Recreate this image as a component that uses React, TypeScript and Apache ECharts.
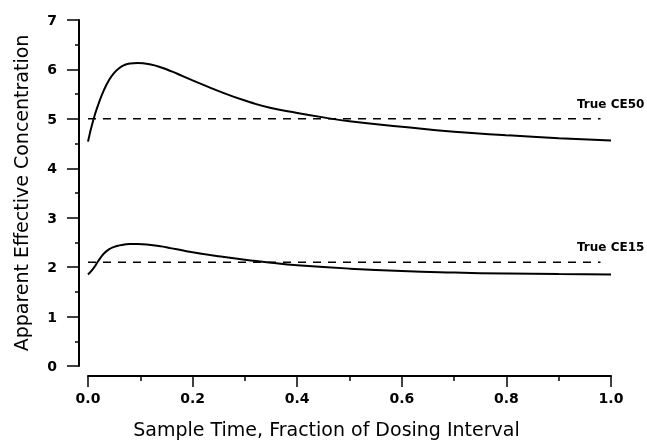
import React, { useEffect, useRef } from "react";
import * as echarts from "echarts";

const upperT = [0, 0.01, 0.02, 0.03, 0.04, 0.05, 0.06, 0.07, 0.08, 0.095, 0.12, 0.14, 0.16, 0.18, 0.2, 0.25, 0.3, 0.35, 0.4, 0.45, 0.5, 0.6, 0.7, 0.8, 0.9, 1.0];
const upperV = [4.54, 4.97, 5.3, 5.57, 5.78, 5.93, 6.03, 6.09, 6.12, 6.13, 6.1, 6.04, 5.96, 5.87, 5.78, 5.56, 5.37, 5.22, 5.12, 5.03, 4.95, 4.84, 4.74, 4.67, 4.61, 4.56];

const lowerT = [0, 0.01, 0.02, 0.03, 0.04, 0.05, 0.06, 0.07, 0.08, 0.095, 0.12, 0.14, 0.16, 0.18, 0.2, 0.25, 0.3, 0.35, 0.4, 0.5, 0.6, 0.7, 0.8, 0.9, 1.0];
const lowerV = [1.85, 1.97, 2.13, 2.27, 2.36, 2.41, 2.44, 2.46, 2.47, 2.47, 2.45, 2.42, 2.38, 2.34, 2.3, 2.22, 2.15, 2.09, 2.04, 1.97, 1.92, 1.89, 1.87, 1.86, 1.85];

const refStart = 0;
const refEnd = 0.98;
const ce50 = 5.0;
const ce15 = 2.1;
const refLabels = ["True CE50", "True CE15"];

const xTitle = "Sample Time, Fraction of Dosing Interval";
const yTitle = "Apparent Effective Concentration";

export default function App() {
  const ref = useRef<HTMLDivElement>(null);
  useEffect(() => {
    if (!ref.current) return;
    const chart = echarts.init(ref.current, null, { renderer: "svg" });
    const zip = (t: number[], v: number[]) => t.map((x, i) => [x, v[i]]);
    const tickFont = { color: "#000", fontFamily: "DejaVu Sans", fontWeight: "bold", fontSize: 14 };
    const labelFont = { color: "#000", fontFamily: "DejaVu Sans", fontWeight: "bold", fontSize: 12 };
    chart.setOption({
      animation: false,
      title: [
        { text: refLabels[0], left: 577, top: 98, padding: 0, textStyle: labelFont },
        { text: refLabels[1], left: 577, top: 241, padding: 0, textStyle: labelFont },
      ],
      grid: { left: 88, right: 36, top: 20, bottom: 76 },
      xAxis: {
        type: "value",
        min: 0,
        max: 1,
        interval: 0.2,
        offset: 10,
        name: xTitle,
        nameLocation: "middle",
        nameGap: 43,
        nameTextStyle: { color: "#000", fontFamily: "DejaVu Sans", fontSize: 19, padding: [0, 46, 0, 0] },
        axisLine: { show: true, onZero: false, lineStyle: { color: "#000", width: 2 } },
        axisTick: { show: true, length: 11, lineStyle: { color: "#000", width: 1.5 } },
        minorTick: { show: true, splitNumber: 2, length: 5, lineStyle: { color: "#000", width: 1.5 } },
        splitLine: { show: false },
        minorSplitLine: { show: false },
        axisLabel: { ...tickFont, margin: 15, formatter: (v: number) => v.toFixed(1) },
      },
      yAxis: {
        type: "value",
        min: 0,
        max: 7,
        interval: 1,
        offset: 9,
        name: yTitle,
        nameLocation: "middle",
        nameRotate: 90,
        nameGap: 49,
        nameTextStyle: { color: "#000", fontFamily: "DejaVu Sans", fontSize: 19 },
        axisLine: { show: true, onZero: false, lineStyle: { color: "#000", width: 2 } },
        axisTick: { show: true, length: 12, lineStyle: { color: "#000", width: 1.5 } },
        minorTick: { show: true, splitNumber: 2, length: 4, lineStyle: { color: "#000", width: 1.5 } },
        splitLine: { show: false },
        minorSplitLine: { show: false },
        axisLabel: { ...tickFont, margin: 22 },
      },
      series: [
        {
          type: "line",
          data: zip(upperT, upperV),
          smooth: true,
          showSymbol: false,
          lineStyle: { color: "#000", width: 2 },
        },
        {
          type: "line",
          data: zip(lowerT, lowerV),
          smooth: true,
          showSymbol: false,
          lineStyle: { color: "#000", width: 2 },
        },
        {
          type: "line",
          data: [[refStart, ce50], [refEnd, ce50]],
          showSymbol: false,
          lineStyle: { color: "#000", width: 1.5, type: [8, 7] },
        },
        {
          type: "line",
          data: [[refStart, ce15], [refEnd, ce15]],
          showSymbol: false,
          lineStyle: { color: "#000", width: 1.5, type: [8, 7] },
        },
      ],
    });
    return () => chart.dispose();
  }, []);
  return <div ref={ref} style={{ position: "fixed", left: 0, top: 0, width: 647, height: 443 }} />;
}
